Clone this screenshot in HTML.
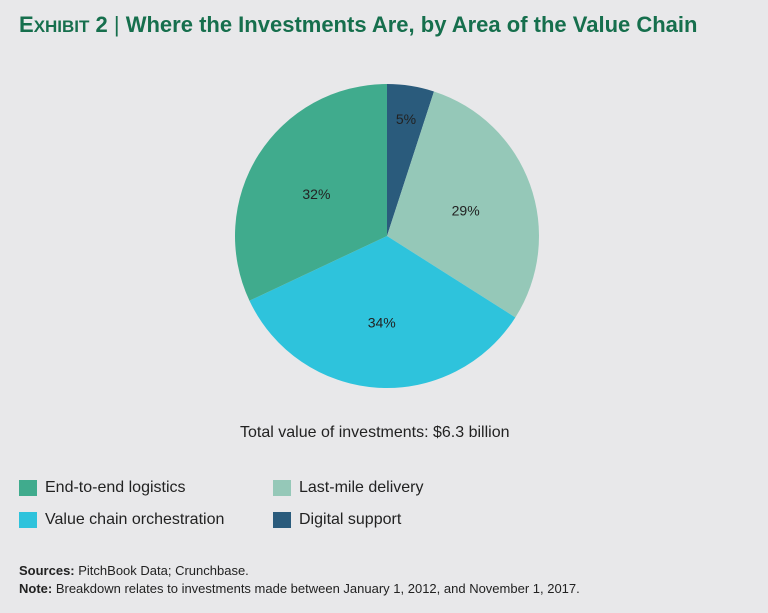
<!DOCTYPE html>
<html><head><meta charset="utf-8"><style>
body{margin:0;width:768px;height:613px;background:#e8e8ea;font-family:"Liberation Sans",sans-serif;position:relative;overflow:hidden}
.t{position:absolute;white-space:nowrap}
#title{left:19px;top:12px;font-size:22px;font-weight:bold;color:#166f4d}
.sw{position:absolute;width:18px;height:16px}
.lg{position:absolute;font-size:16px;color:#222}
</style></head><body>
<div id="title" class="t">E<span style="font-size:17px">XHIBIT</span> 2 <span style="font-weight:normal">|</span> Where the Investments Are, by Area of the Value Chain</div>
<svg id="pie" width="768" height="613" style="position:absolute;left:0;top:0"></svg>
<div class="t" style="left:240px;top:424px;font-size:16px;color:#222">Total value of investments: $6.3 billion</div>
<div class="sw" style="left:19px;top:480px;background:#40ab8d"></div>
<div class="lg" style="left:45px;top:479px">End-to-end logistics</div>
<div class="sw" style="left:273px;top:480px;background:#95c8b8"></div>
<div class="lg" style="left:299px;top:479px">Last-mile delivery</div>
<div class="sw" style="left:19px;top:512px;background:#2ec3dc"></div>
<div class="lg" style="left:45px;top:511px">Value chain orchestration</div>
<div class="sw" style="left:273px;top:512px;background:#2a5b7c"></div>
<div class="lg" style="left:299px;top:511px">Digital support</div>
<div class="t" style="left:19px;top:563px;font-size:13px;color:#222"><b>Sources:</b> PitchBook Data; Crunchbase.</div>
<div class="t" style="left:19px;top:581px;font-size:13px;color:#222"><b>Note:</b> Breakdown relates to investments made between January 1, 2012, and November 1, 2017.</div>
<script>
const categories=["Digital support","Last-mile delivery","Value chain orchestration","End-to-end logistics"];
const values=[5,29,34,32];
const labels=["5%","29%","34%","32%"];
const colors=["#2a5b7c","#95c8b8","#2ec3dc","#40ab8d"];
const svg=document.getElementById('pie');
const cx=387,cy=236,r=152,NS="http://www.w3.org/2000/svg";
const total=values.reduce((a,b)=>a+b,0);
let a0=0;
values.forEach((v,i)=>{
  const a1=a0+v/total*2*Math.PI;
  const p=(a)=>[cx+r*Math.sin(a),cy-r*Math.cos(a)];
  const [x0,y0]=p(a0),[x1,y1]=p(a1);
  const path=document.createElementNS(NS,'path');
  path.setAttribute('d',`M${cx},${cy}L${x0},${y0}A${r},${r} 0 ${a1-a0>Math.PI?1:0} 1 ${x1},${y1}Z`);
  path.setAttribute('fill',colors[i]);
  
  
  svg.appendChild(path);
  const m=(a0+a1)/2,lr=v<10?r*0.8:r*0.55;
  const t=document.createElementNS(NS,'text');
  t.setAttribute('x',cx+lr*Math.sin(m));t.setAttribute('y',cy-lr*Math.cos(m)+8);
  t.setAttribute('text-anchor','middle');t.setAttribute('font-size','14');t.setAttribute('fill','#222');
  t.setAttribute('font-family','Liberation Sans, sans-serif');
  t.textContent=labels[i];
  
  
  svg.appendChild(t);
  a0=a1;
});
</script>
</body></html>
